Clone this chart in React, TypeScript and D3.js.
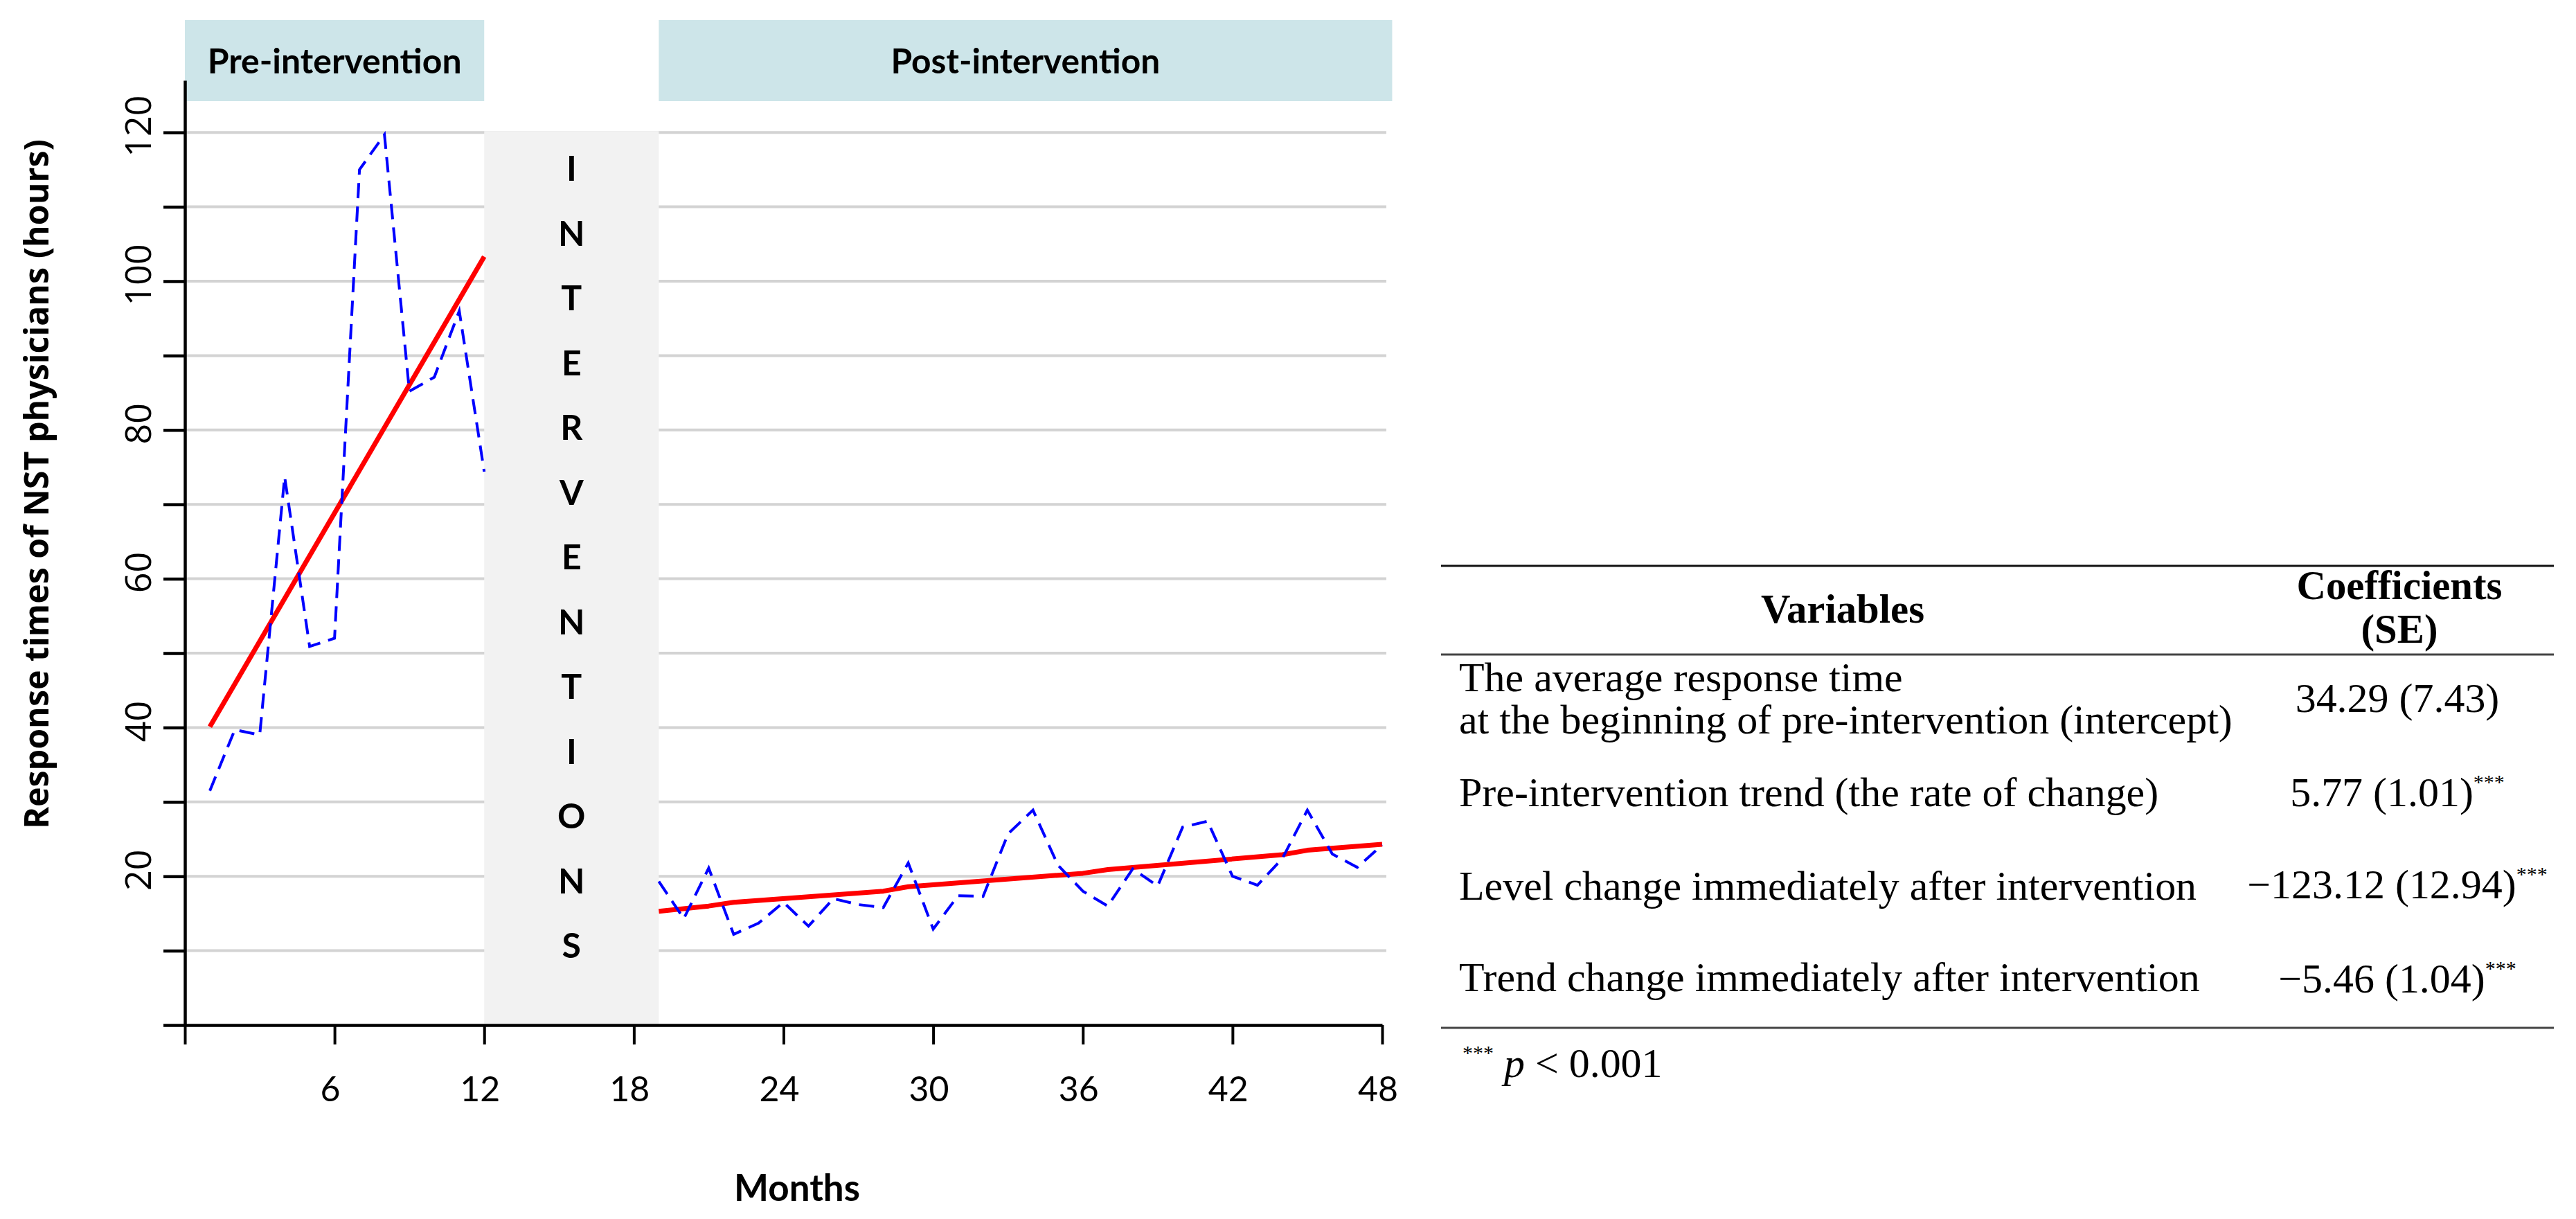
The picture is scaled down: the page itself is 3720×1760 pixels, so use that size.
import React, { useEffect, useRef } from 'react';
import * as d3 from 'd3';

// Monthly response times (hours)
const preMonths = [1, 2, 3, 4, 5, 6, 7, 8, 9, 10, 11, 12];
const preValues = [31.5, 39.7, 39.0, 73.7, 50.9, 52.0, 115.0, 119.7, 85.2, 87.1, 96.0, 74.4];

const postMonths = [19, 20, 21, 22, 23, 24, 25, 26, 27, 28, 29, 30, 31, 32, 33, 34, 35, 36, 37, 38, 39, 40, 41, 42, 43, 44, 45, 46, 47, 48];
const postValues = [19.3, 14.3, 21.1, 12.2, 13.7, 16.5, 13.3, 17.0, 16.2, 15.8, 21.8, 12.9, 17.4, 17.3, 25.7, 28.9, 21.5, 18.0, 16.0, 21.0, 18.7, 26.6, 27.4, 20.0, 18.8, 22.4, 28.9, 23.0, 21.2, 24.2];

// Fitted segmented regression lines
const preTrendMonths = [1, 12];
const preTrendValues = [40.1, 103.3];
const postTrendMonths = [19, 21, 22, 28, 29, 36, 37, 44, 45, 48];
const postTrendValues = [15.3, 16.0, 16.5, 18.0, 18.6, 20.4, 20.9, 22.9, 23.5, 24.3];

const xTicks = [0, 6, 12, 18, 24, 30, 36, 42, 48];
const yTicks = [0, 10, 20, 30, 40, 50, 60, 70, 80, 90, 100, 110, 120];
const yLabels = [20, 40, 60, 80, 100, 120];

const phaseNames = ['Pre-intervention', 'Post-intervention'];
const phaseSpans = [[0, 12], [19, 48.4]];
const interventionSpan = [12, 19];
const interventionLetters = 'INTERVENTIONS'.split('');

const tableHeaders = ['Variables', 'Coefficients', '(SE)'];
const tableVariables = [
  ['The average response time', 'at the beginning of pre-intervention (intercept)'],
  ['Pre-intervention trend (the rate of change)'],
  ['Level change immediately after intervention'],
  ['Trend change immediately after intervention'],
];
const tableCoefficients = ['34.29 (7.43)', '5.77 (1.01)', '\u2212123.12 (12.94)', '\u22125.46 (1.04)'];
const tableStars = ['', '***', '***', '***'];

const W = 3720;
const H = 1760;

function fit(t: any, target: number) {
  const node = t.node() as SVGTextElement;
  const len = node.getComputedTextLength();
  if (len > 0) t.attr('font-size', (+t.attr('font-size')) * target / len);
}

export default function App() {
  const svgRef = useRef<SVGSVGElement>(null);

  useEffect(() => {
    if (!svgRef.current) return;
    const svg = d3.select(svgRef.current);
    svg.selectAll('*').remove();

    const x = d3.scaleLinear().domain([0, 48]).range([267, 1996]);
    const y = d3.scaleLinear().domain([0, 127]).range([1480, 116]);

    svg.append('rect').attr('width', W).attr('height', H).attr('fill', '#fff');

    // grid
    svg.append('g')
      .selectAll('line')
      .data(yTicks.filter(v => v > 0))
      .enter()
      .append('line')
      .attr('x1', x(0))
      .attr('x2', 2002)
      .attr('y1', d => y(d))
      .attr('y2', d => y(d))
      .attr('stroke', '#d3d3d3')
      .attr('stroke-width', 4);

    // intervention band
    svg.append('rect')
      .attr('x', x(interventionSpan[0]))
      .attr('y', y(120) - 2)
      .attr('width', x(interventionSpan[1]) - x(interventionSpan[0]))
      .attr('height', y(0) - y(120) + 2)
      .attr('fill', '#f2f2f2');

    const cx = (x(interventionSpan[0]) + x(interventionSpan[1])) / 2;
    svg.append('g')
      .selectAll('text')
      .data(interventionLetters)
      .enter()
      .append('text')
      .attr('x', cx)
      .attr('y', (d, i) => 243 + i * 93.5 + 18)
      .attr('text-anchor', 'middle')
      .attr('font-family', 'Lato, sans-serif')
      .attr('font-weight', 'bold')
      .attr('font-size', 50)
      .attr('fill', '#000')
      .text(d => d);

    // phase header boxes
    phaseNames.forEach((name, i) => {
      const [a, b] = phaseSpans[i];
      svg.append('rect')
        .attr('x', x(a))
        .attr('y', 29)
        .attr('width', x(b) - x(a))
        .attr('height', 117)
        .attr('fill', '#cde5e9');
      const t = svg.append('text')
        .attr('x', (x(a) + x(b)) / 2)
        .attr('y', 106)
        .attr('text-anchor', 'middle')
        .attr('font-family', 'Lato, sans-serif')
        .attr('font-weight', 'bold')
        .attr('font-size', 48)
        .attr('fill', '#000')
        .text(name);
      fit(t, i === 0 ? 367 : 389);
    });

    // series
    const line = d3.line<[number, number]>().x(d => x(d[0])).y(d => y(d[1]));
    const pre = preMonths.map((m, i) => [m, preValues[i]] as [number, number]);
    const post = postMonths.map((m, i) => [m, postValues[i]] as [number, number]);
    const preT = preTrendMonths.map((m, i) => [m, preTrendValues[i]] as [number, number]);
    const postT = postTrendMonths.map((m, i) => [m, postTrendValues[i]] as [number, number]);

    [preT, postT].forEach(d => {
      svg.append('path')
        .attr('d', line(d))
        .attr('fill', 'none')
        .attr('stroke', '#ff0000')
        .attr('stroke-width', 7)
        .attr('stroke-linejoin', 'round');
    });
    [pre, post].forEach(d => {
      svg.append('path')
        .attr('d', line(d))
        .attr('fill', 'none')
        .attr('stroke', '#0000ff')
        .attr('stroke-width', 4)
        .attr('stroke-dasharray', '22,12');
    });

    // axes
    const yAxis = svg.append('g')
      .attr('transform', `translate(${x(0)},0)`)
      .call(d3.axisLeft(y).tickValues(yTicks).tickSize(31).tickSizeOuter(0).tickFormat(() => ''));
    yAxis.select('.domain').attr('stroke', '#000').attr('stroke-width', 4.5);
    yAxis.selectAll('.tick line').attr('stroke', '#000').attr('stroke-width', 4.5);

    svg.append('g')
      .selectAll('text')
      .data(yLabels)
      .enter()
      .append('text')
      .attr('transform', d => `translate(218,${y(d) - 9}) rotate(-90)`)
      .attr('text-anchor', 'middle')
      .attr('font-family', "'Open Sans', sans-serif")
      .attr('font-size', 52)
      .attr('fill', '#000')
      .text(d => d);

    const xAxis = svg.append('g')
      .attr('transform', `translate(0,${y(0)})`)
      .call(d3.axisBottom(x).tickValues(xTicks).tickSize(28).tickSizeOuter(0).tickFormat(() => ''));
    xAxis.select('.domain').attr('stroke', '#000').attr('stroke-width', 4.5);
    xAxis.selectAll('.tick line').attr('stroke', '#000').attr('stroke-width', 4);

    svg.append('g')
      .selectAll('text')
      .data(xTicks.filter(v => v > 0))
      .enter()
      .append('text')
      .attr('x', d => x(d) - 6)
      .attr('y', 1590)
      .attr('text-anchor', 'middle')
      .attr('font-family', 'Lato, sans-serif')
      .attr('font-size', 50)
      .attr('fill', '#000')
      .text(d => d);

    const xt = svg.append('text')
      .attr('x', 1151)
      .attr('y', 1734)
      .attr('text-anchor', 'middle')
      .attr('font-family', 'Lato, sans-serif')
      .attr('font-weight', 'bold')
      .attr('font-size', 52)
      .attr('fill', '#000')
      .text('Months');
    fit(xt, 182);

    const yt = svg.append('text')
      .attr('transform', 'translate(70,699) rotate(-90)')
      .attr('text-anchor', 'middle')
      .attr('font-family', "'Open Sans', sans-serif")
      .attr('font-weight', 'bold')
      .attr('font-size', 46)
      .attr('fill', '#000')
      .text('Response times of NST physicians (hours)');
    fit(yt, 996);

    // table
    const tL = 2081;
    const tR = 3688;
    const rules = [[817, '#111'], [945, '#444'], [1484, '#444']];
    rules.forEach(([ry, c]) => {
      svg.append('line')
        .attr('x1', tL).attr('x2', tR)
        .attr('y1', ry as number).attr('y2', ry as number)
        .attr('stroke', c as string)
        .attr('stroke-width', 3);
    });

    const serif = "'Liberation Serif', 'Times New Roman', serif";
    const probe = svg.append('text')
      .attr('font-family', serif)
      .attr('font-size', 56)
      .text(tableVariables[3][0]);
    fit(probe, 1070);
    const fs = +probe.attr('font-size');
    probe.remove();

    const hp = svg.append('text')
      .attr('font-family', serif)
      .attr('font-weight', 'bold')
      .attr('font-size', 56)
      .text(tableHeaders[1]);
    fit(hp, 297);
    const hfs = +hp.attr('font-size');
    hp.remove();

    const header = (txt: string, hx: number, hy: number) =>
      svg.append('text')
        .attr('x', hx).attr('y', hy)
        .attr('text-anchor', 'middle')
        .attr('font-family', serif)
        .attr('font-weight', 'bold')
        .attr('font-size', hfs)
        .attr('fill', '#000')
        .text(txt);
    header(tableHeaders[0], 2661, 899);
    header(tableHeaders[1], 3465, 865);
    header(tableHeaders[2], 3465, 928);

    const rowBaselines = [[998, 1059], [1164], [1299], [1431]];
    const coefBaselines = [1028, 1164, 1297, 1433];
    tableVariables.forEach((lines, i) => {
      lines.forEach((l, j) => {
        svg.append('text')
          .attr('x', 2107)
          .attr('y', rowBaselines[i][j])
          .attr('font-family', serif)
          .attr('font-size', fs)
          .attr('fill', '#000')
          .text(l);
      });
      const ct = svg.append('text')
        .attr('x', 3462)
        .attr('y', coefBaselines[i])
        .attr('text-anchor', 'middle')
        .attr('font-family', serif)
        .attr('font-size', fs)
        .attr('fill', '#000');
      ct.append('tspan').text(tableCoefficients[i]);
      if (tableStars[i]) {
        ct.append('tspan')
          .attr('font-size', fs * 0.5)
          .attr('dy', -fs * 0.42)
          .text(tableStars[i]);
      }
    });

    const fn = svg.append('text')
      .attr('x', 2112)
      .attr('y', 1555)
      .attr('font-family', serif)
      .attr('font-size', fs)
      .attr('fill', '#000');
    fn.append('tspan').attr('font-size', fs * 0.5).attr('dy', -fs * 0.42).text('***');
    fn.append('tspan').attr('dy', fs * 0.42).attr('font-style', 'italic').text(' p');
    fn.append('tspan').text(' < 0.001');
  }, []);

  return (
    <svg
      ref={svgRef}
      width={W}
      height={H}
      viewBox={`0 0 ${W} ${H}`}
      style={{ position: 'absolute', left: 0, top: 0, display: 'block' }}
    />
  );
}
